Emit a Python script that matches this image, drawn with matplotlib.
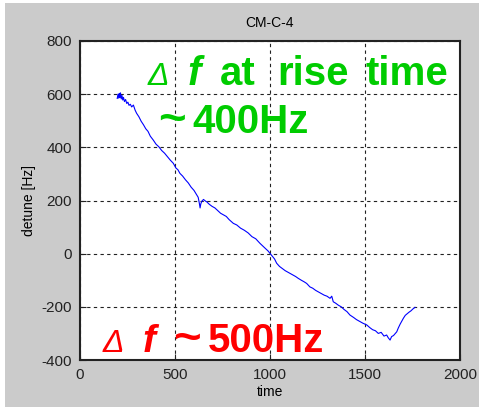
import matplotlib
matplotlib.use("Agg")
import matplotlib.pyplot as plt
from matplotlib.patches import Rectangle

plt.rcParams['font.family'] = ['Liberation Sans', 'DejaVu Sans']
plt.rcParams['axes.unicode_minus'] = False

# detune trace
time = [196, 200, 204, 207, 210, 213, 217, 221, 225, 229, 234, 240, 246, 252, 258,
        265, 272, 281, 290, 298, 310, 322, 334, 346, 358, 370, 386, 400, 415, 430,
        445, 460, 475, 491, 505, 515, 526, 540, 555, 570, 585, 600, 614, 622, 628,
        632, 636, 642, 650, 660, 667, 680, 695, 710, 725, 740, 755, 770, 785, 807,
        825, 845, 865, 885, 905, 925, 947, 960, 975, 990, 1000, 1012, 1024, 1035,
        1050, 1065, 1080, 1095, 1105, 1120, 1135, 1149, 1165, 1180, 1193, 1210,
        1225, 1240, 1255, 1270, 1285, 1300, 1316, 1325, 1333, 1345, 1360, 1375,
        1390, 1405, 1421, 1440, 1455, 1470, 1490, 1509, 1525, 1540, 1555, 1570,
        1585, 1600, 1614, 1622, 1632, 1640, 1650, 1660, 1667, 1675, 1685, 1695,
        1702, 1712, 1722, 1732, 1742, 1752, 1763]
detune = [584, 600, 585, 603, 588, 605, 582, 595, 578, 588, 572, 580, 565, 570, 558,
          562, 552, 559, 540, 528, 515, 498, 485, 470, 460, 442, 427, 412, 402, 388,
          378, 365, 352, 340, 322, 316, 302, 292, 278, 266, 250, 238, 221, 212, 190,
          172, 188, 198, 204, 198, 195, 186, 178, 172, 162, 152, 146, 140, 128, 114,
          108, 96, 88, 78, 64, 56, 39, 30, 20, 10, 1, -10, -20, -36,
          -48, -56, -64, -70, -74, -80, -86, -93, -100, -106, -112, -125,
          -130, -138, -144, -150, -156, -160, -168, -160, -181, -186, -194, -200,
          -210, -218, -231, -240, -248, -254, -262, -268, -278, -286, -290, -300,
          -296, -310, -306, -316, -325, -312, -308, -300, -294, -280, -265, -252,
          -243, -232, -226, -220, -215, -208, -202]

xticks = [0, 500, 1000, 1500, 2000]
yticks = [-400, -200, 0, 200, 400, 600, 800]

fig = plt.figure(figsize=(4.79, 4.07), dpi=100)
fig.patch.set_facecolor('white')
fig.patches.append(Rectangle((5 / 479, 0), 1, 1 - 3 / 407, transform=fig.transFigure,
                             facecolor='#cbcbcb', edgecolor='none', zorder=-10))

ax = fig.add_axes([80 / 479, 1 - 360 / 407, 380 / 479, 319 / 407])
ax.set_facecolor('white')
ax.plot(time, detune, color='#0000ff', linewidth=0.8)

ax.set_xlim(0, 2000)
ax.set_ylim(-400, 800)
ax.set_xticks(xticks)
ax.set_yticks(yticks)
ax.tick_params(direction='in', length=4, labelsize=11, colors='#222222', pad=6)
ax.grid(True, color='#222222', linestyle=(0, (3, 3)), linewidth=0.8)
for s in ax.spines.values():
    s.set_linewidth(1.5)
    s.set_color('#222222')

ax.set_title('CM-C-4', fontsize=10, pad=10)
ax.set_xlabel('time', fontsize=10, labelpad=2)
ax.set_ylabel('detune [Hz]', fontsize=10, labelpad=4)

green = '#00cc00'
red = '#ff0000'
tr = ax.transAxes

# green annotation
ax.text(0.179, 0.862, 'Δ', color=green, fontsize=23, style='italic', transform=tr, va='baseline')
ax.text(0.282, 0.862, 'f', color=green, fontsize=29, style='italic', weight='bold', transform=tr, va='baseline')
ax.text(0.368, 0.862, 'at', color=green, fontsize=29, weight='bold', transform=tr, va='baseline')
ax.text(0.518, 0.862, 'rise', color=green, fontsize=29, weight='bold', transform=tr, va='baseline')
ax.text(0.750, 0.862, 'time', color=green, fontsize=29, weight='bold', transform=tr, va='baseline')
ax.text(0.205, 0.7125, '~', color=green, fontsize=34, weight='bold', transform=tr, va='baseline')
ax.text(0.297, 0.7125, '400Hz', color=green, fontsize=29, weight='bold', transform=tr, va='baseline')

# red annotation
ax.text(0.0605, 0.025, 'Δ', color=red, fontsize=23, style='italic', transform=tr, va='baseline')
ax.text(0.166, 0.025, 'f', color=red, fontsize=28, style='italic', weight='bold', transform=tr, va='baseline')
ax.text(0.245, 0.025, '~', color=red, fontsize=34, weight='bold', transform=tr, va='baseline')
ax.text(0.337, 0.025, '500Hz', color=red, fontsize=29, weight='bold', transform=tr, va='baseline')

fig.savefig('out.png', dpi=100)
